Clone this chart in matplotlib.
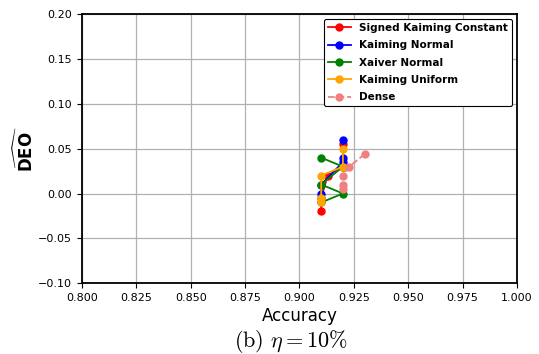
import matplotlib
matplotlib.use("Agg")
import matplotlib.pyplot as plt

# accuracy / DEO pairs per initialisation scheme
skc_acc = [0.920, 0.920, 0.913, 0.910, 0.910]
skc_deo = [0.055, 0.030, 0.020, -0.005, -0.020]

kn_acc = [0.920, 0.920, 0.920, 0.910, 0.910]
kn_deo = [0.060, 0.040, 0.035, 0.010, 0.000]

xn_acc = [0.910, 0.920, 0.910, 0.920, 0.910]
xn_deo = [0.040, 0.030, 0.010, 0.000, -0.010]

ku_acc = [0.920, 0.920, 0.910, 0.910, 0.910]
ku_deo = [0.050, 0.030, 0.020, -0.005, -0.010]

dense_acc = [0.930, 0.923, 0.920, 0.920, 0.920]
dense_deo = [0.044, 0.030, 0.020, 0.010, 0.005]

fig = plt.figure(figsize=(5.39, 3.54), dpi=100)
ax = fig.add_axes([0.152, 0.2, 0.807, 0.76])

ms = 5
ax.plot(skc_acc, skc_deo, "-o", color="red", ms=ms, lw=1.3, label="Signed Kaiming Constant")
ax.plot(kn_acc, kn_deo, "-o", color="blue", ms=ms, lw=1.3, label="Kaiming Normal")
ax.plot(xn_acc, xn_deo, "-o", color="green", ms=ms, lw=1.3, label="Xaiver Normal")
ax.plot(ku_acc, ku_deo, "-o", color="orange", ms=ms, lw=1.3, label="Kaiming Uniform")
ax.plot(dense_acc, dense_deo, "--o", color="lightcoral", ms=ms, lw=1.3, label="Dense")

ax.set_xlim(0.8, 1.0)
ax.set_ylim(-0.1, 0.2)
ax.set_xticks([0.8 + 0.025 * i for i in range(9)])
ax.set_yticks([-0.1 + 0.05 * i for i in range(7)])
ax.tick_params(labelsize=8)
ax.grid(True, color="#b0b0b0", lw=0.9)
for s in ax.spines.values():
    s.set_linewidth(1.3)

ax.set_xlabel("Accuracy", fontsize=12, labelpad=3)
ax.set_ylabel(r"$\widehat{\mathbf{DEO}}$", fontsize=12, labelpad=1)

leg = ax.legend(loc="upper right", prop={"weight": "bold", "size": 7.5},
                fancybox=True, framealpha=1, edgecolor="black",
                borderaxespad=0.45, handlelength=2.2, labelspacing=0.7)
leg.get_frame().set_linewidth(0.8)

fig.text(0.54, 0.036, r"$\mathrm{(b)}\ \eta = 10\%$", ha="center", va="center",
         fontsize=16, math_fontfamily="cm")

fig.savefig("out.png", dpi=100)
